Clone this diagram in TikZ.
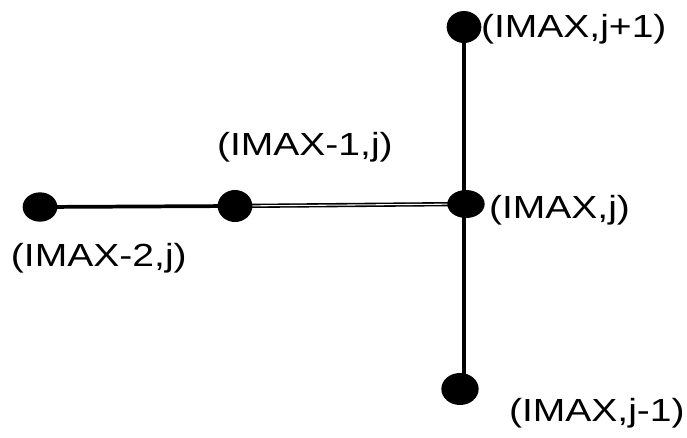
\documentclass[tikz,border=0pt]{standalone}
\usepackage{fontspec}
\setmainfont{Liberation Sans}
\usetikzlibrary{shapes.geometric,backgrounds}

\tikzset{
  gridpt/.style={ellipse, fill=black, inner sep=0pt},
  ptlabel/.style={anchor=base west, inner sep=0pt, outer sep=0pt,
    font=\fontsize{24}{28}\selectfont},
  link/.style={draw=black, line width=2.8pt},
  duallink/.style={draw=black, line width=1.2pt, double=white, double distance=0.8pt},
}
\newcommand{\wlab}[1]{\scalebox{1.22}[1]{#1}}

\begin{document}
\begin{tikzpicture}[x=0.75pt, y=-0.75pt]
  \useasboundingbox (0,0) rectangle (687,437);

  % grid points
  \node[gridpt, minimum width=26, minimum height=22] (im2) at (40,207) {};
  \node[gridpt, minimum width=26, minimum height=24] (im1) at (235,206) {};
  \node[gridpt, minimum width=28, minimum height=21] (ij)  at (466,204) {};
  \node[gridpt, minimum width=26, minimum height=24] (ijp) at (464,27) {};
  \node[gridpt, minimum width=28, minimum height=24] (ijm) at (460,389) {};

  % connectors behind the points
  \begin{pgfonlayer}{background}
    \draw[link] (im2.center) -- (im1.center);
    \draw[duallink] (im1.center) -- (ij.center);
    \draw[link, line width=3.2pt] (ijp.center) -- (ijp.center |- ijm.center);
  \end{pgfonlayer}

  % labels
  \node[ptlabel] (lijp) at (481,37)  {\wlab{(IMAX,j+1)}};
  \node[ptlabel] (lim1) at (217,155) {\wlab{(IMAX-1,j)}};
  \node[ptlabel] (lij)  at (489,218) {\wlab{(IMAX,j)}};
  \node[ptlabel] (lim2) at (11,266)  {\wlab{(IMAX-2,j)}};
  \node[ptlabel] (lijm) at (509,421) {\wlab{(IMAX,j-1)}};
\end{tikzpicture}
\end{document}
